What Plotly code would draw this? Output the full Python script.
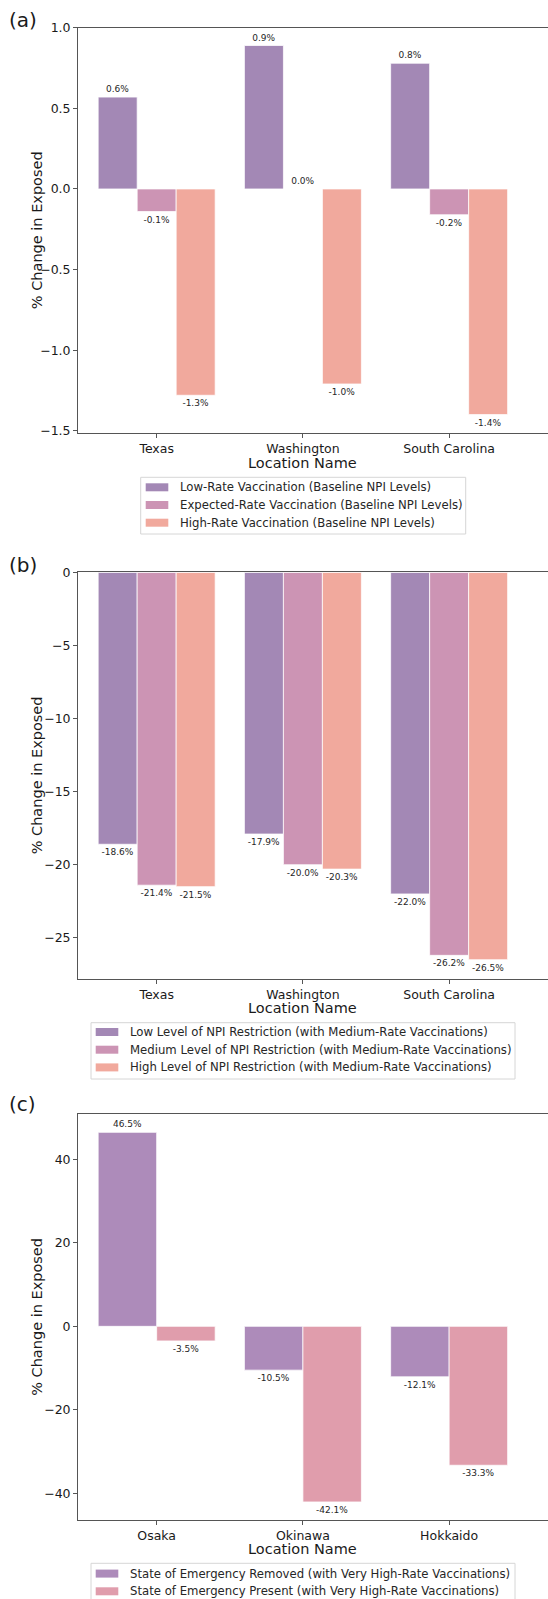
import plotly.graph_objects as go

W, H = 548, 1599

# ---------------- data ----------------
us_states = ["Texas", "Washington", "South Carolina"]
jp_prefs = ["Osaka", "Okinawa", "Hokkaido"]

# Panel (a): vaccination rate scenarios (baseline NPI)
a_names = ["Low-Rate Vaccination (Baseline NPI Levels)",
           "Expected-Rate Vaccination (Baseline NPI Levels)",
           "High-Rate Vaccination (Baseline NPI Levels)"]
a_low = [0.57, 0.89, 0.78]
a_expected = [-0.14, 0.0, -0.16]
a_high = [-1.28, -1.21, -1.40]
a_low_labels = ["0.6%", "0.9%", "0.8%"]
a_expected_labels = ["-0.1%", "0.0%", "-0.2%"]
a_high_labels = ["-1.3%", "-1.0%", "-1.4%"]

# Panel (b): NPI restriction levels (medium-rate vaccination)
b_names = ["Low Level of NPI Restriction (with Medium-Rate Vaccinations)",
           "Medium Level of NPI Restriction (with Medium-Rate Vaccinations)",
           "High Level of NPI Restriction (with Medium-Rate Vaccinations)"]
b_low = [-18.6, -17.9, -22.0]
b_medium = [-21.4, -20.0, -26.2]
b_high = [-21.5, -20.3, -26.5]

# Panel (c): state of emergency (very high-rate vaccination)
c_names = ["State of Emergency Removed (with Very High-Rate Vaccinations)",
           "State of Emergency Present (with Very High-Rate Vaccinations)"]
c_removed = [46.5, -10.5, -12.1]
c_present = [-3.5, -42.1, -33.3]

x_title = "Location Name"
y_title = "% Change in Exposed"

# ---------------- style ----------------
FONT = "DejaVu Sans"
col_a = ["#a388b5", "#cc94b4", "#f1a99d"]
col_b = ["#a388b5", "#cc94b4", "#f1a99d"]
col_c = ["#ad8bba", "#e09dac"]
LINE = "#555555"
TXT = "#1a1a1a"

fig = go.Figure()


def add_bar(x, y, name, color, labels, xa, ya):
    fig.add_trace(go.Bar(
        x=x, y=y, name=name, text=labels, textposition="outside",
        textfont=dict(family=FONT, size=9, color="#262626"),
        constraintext="none", cliponaxis=False, showlegend=False,
        marker=dict(color=color, line=dict(color="rgba(255,255,255,0.75)", width=1)),
        xaxis=xa, yaxis=ya, offsetgroup=name,
    ))


def fmt(vals):
    return [f"{v:.1f}%" for v in vals]


add_bar(us_states, a_low, a_names[0], col_a[0], a_low_labels, "x", "y")
add_bar(us_states, a_expected, a_names[1], col_a[1], a_expected_labels, "x", "y")
add_bar(us_states, a_high, a_names[2], col_a[2], a_high_labels, "x", "y")

add_bar(us_states, b_low, b_names[0], col_b[0], fmt(b_low), "x2", "y2")
add_bar(us_states, b_medium, b_names[1], col_b[1], fmt(b_medium), "x2", "y2")
add_bar(us_states, b_high, b_names[2], col_b[2], fmt(b_high), "x2", "y2")

add_bar(jp_prefs, c_removed, c_names[0], col_c[0], fmt(c_removed), "x3", "y3")
add_bar(jp_prefs, c_present, c_names[1], col_c[1], fmt(c_present), "x3", "y3")


def py(p):
    return 1 - p / H


xdom = [77.7 / W, 1.0]
xrange_ = [-0.54, 2.676]

common_x = dict(
    domain=xdom, range=xrange_, showline=True, mirror=True, linecolor=LINE, linewidth=1.3,
    ticks="outside", ticklen=3.5, tickwidth=1, tickcolor=LINE,
    tickfont=dict(family=FONT, size=12.5, color=TXT),
    showgrid=False, zeroline=False,
)
common_y = dict(
    showline=True, mirror=False, linecolor=LINE, linewidth=1.3,
    ticks="outside", ticklen=3.5, tickwidth=1, tickcolor=LINE,
    tickfont=dict(family=FONT, size=12.5, color=TXT),
    showgrid=False, zeroline=False,
)

fig.update_layout(
    width=W, height=H,
    margin=dict(l=0, r=0, t=0, b=0, autoexpand=False),
    paper_bgcolor="white", plot_bgcolor="white",
    barmode="group", bargap=0.2, bargroupgap=0.0,
    font=dict(family=FONT),
    showlegend=False,
    xaxis=dict(common_x, anchor="y"),
    xaxis2=dict(common_x, anchor="y2"),
    xaxis3=dict(common_x, anchor="y3"),
    yaxis=dict(common_y, anchor="x", domain=[py(433.3), py(27.7)], range=[-1.516, 1.0005],
               tickvals=[1.0, 0.5, 0.0, -0.5, -1.0, -1.5], tickformat=".1f"),
    yaxis2=dict(common_y, anchor="x2", domain=[py(979), py(572.3)], range=[-27.82, 0.01],
                tickvals=[0, -5, -10, -15, -20, -25]),
    yaxis3=dict(common_y, anchor="x3", domain=[py(1520.3), py(1114)], range=[-46.5, 50.9],
                tickvals=[40, 20, 0, -20, -40]),
)

panels = [
    # (label, label_y_px, plot_top_px, plot_bottom_px, x_title_y_px)
    ("(a)", 19.5, 27.7, 433.3, 463.3),
    ("(b)", 565.0, 572.3, 979.0, 1008.3),
    ("(c)", 1104.0, 1114.0, 1520.3, 1549.3),
]

for lab, ly, top, bot, xty in panels:
    fig.add_annotation(text=lab, xref="paper", yref="paper", x=22.5 / W, y=py(ly),
                       xanchor="center", yanchor="middle", showarrow=False,
                       font=dict(family=FONT, size=20, color=TXT))
    fig.add_annotation(text=y_title, xref="paper", yref="paper", x=36.7 / W,
                       y=py((top + bot) / 2), textangle=-90,
                       xanchor="center", yanchor="middle", showarrow=False,
                       font=dict(family=FONT, size=14.5, color=TXT))
    fig.add_annotation(text=x_title, xref="paper", yref="paper", x=302.7 / W, y=py(xty),
                       xanchor="center", yanchor="middle", showarrow=False,
                       font=dict(family=FONT, size=14.5, color=TXT))

# ---------------- legends (drawn as boxes, swatches and text) ----------------
legends = [
    # names, colors, box (x0, y0, x1, y1) px, swatch x0 px, first entry y px
    (a_names, col_a, (140.7, 477.3, 465.7, 534.0), 145.7, 487.3),
    (b_names, col_b, (91.0, 1022.7, 515.0, 1079.0), 95.7, 1032.0),
    (c_names, col_c, (91.0, 1563.3, 515.0, 1601.5), 95.7, 1573.6),
]
STEP = 17.7
for names, cols, (bx0, by0, bx1, by1), sx, ey in legends:
    fig.add_shape(type="rect", xref="paper", yref="paper",
                  x0=bx0 / W, x1=bx1 / W, y0=py(by1), y1=py(by0),
                  line=dict(color="#d6d6d6", width=1), fillcolor="rgba(255,255,255,0.8)",
                  layer="above")
    for i, (nm, cl) in enumerate(zip(names, cols)):
        yc = ey + i * STEP
        fig.add_shape(type="rect", xref="paper", yref="paper",
                      x0=sx / W, x1=(sx + 22.6) / W, y0=py(yc + 4), y1=py(yc - 4),
                      line=dict(width=0), fillcolor=cl, layer="above")
        fig.add_annotation(text=nm, xref="paper", yref="paper", x=(sx + 32.5) / W, y=py(yc),
                           xanchor="left", yanchor="middle", showarrow=False,
                           font=dict(family=FONT, size=11.7, color="#262626"))

fig.write_html("out.html")
